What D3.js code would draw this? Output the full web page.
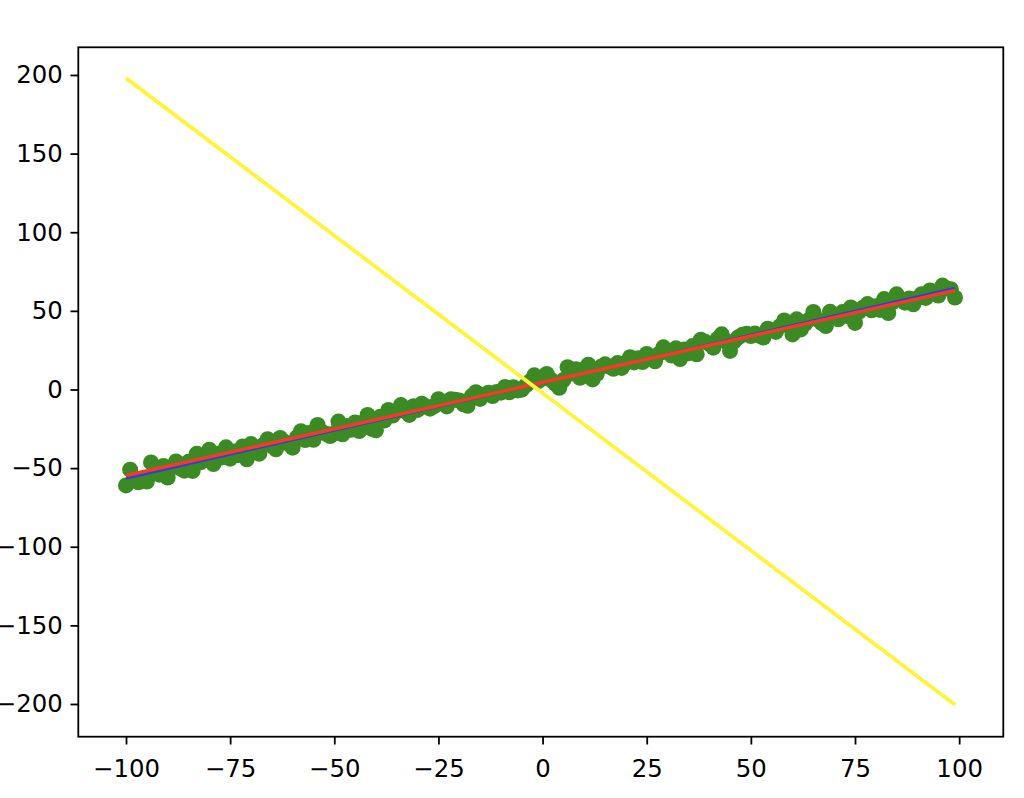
<!DOCTYPE html>
<html>
<head>
<meta charset="utf-8">
<script src="https://cdn.jsdelivr.net/npm/d3@7"></script>
<style>
  html, body { margin: 0; padding: 0; background: #fff; }
  svg { display: block; }
  text { font-family: "DejaVu Sans", sans-serif; }
</style>
</head>
<body>
<svg id="chart" width="1024" height="798"></svg>
<script>
// ---- data ----
const pointX = d3.range(-100, 100); // integer x positions -100 .. 99
const pointY = [
  -61, -51, -57, -59, -56.6, -58.5, -46.4, -50.8, -54.2, -48.6,
  -56, -49.4, -45.8, -50.2, -51.6, -46, -51.8, -40.8, -46.2, -42.6,
  -38.3, -47.4, -40.8, -43.2, -36.8, -44, -39.4, -41.8, -36.2, -44.4,
  -34.7, -39.4, -40.8, -35.2, -31.6, -36, -38, -30.8, -33.2, -34.6,
  -37, -30.4, -26.5, -32.2, -27.6, -32, -22.6, -26.8, -28.2, -29.6,
  -28, -20.4, -28.5, -23.2, -25.6, -21, -26.4, -20.8, -16.2, -25.1,
  -26, -17.4, -19.8, -13, -16.6, -14, -9.9, -13.8, -16.2, -10.6,
  -13, -9, -10.8, -12.2, -10.6, -6.2, -8.4, -10.8, -6.2, -6.6,
  -7, -9.4, -10.4, -4.2, -1.7, -6, -3.4, -2, -4.2, -1.6,
  -2, 1.6, -1.8, 1.5, -0.6, -0.1, 2.6, 5.2, 9, 5.4,
  7, 9.9, 6.2, 3.8, 1.1, 6, 14.2, 10.2, 12.8, 7.4,
  13, 15.8, 6.4, 9.8, 14.4, 16, 14.6, 13.2, 16.8, 13.7,
  17, 20.5, 17.2, 19.8, 17.4, 22.6, 20.6, 17.9, 22.8, 26.8,
  24, 21.6, 26.2, 19.4, 25.4, 23, 27.6, 22.4, 31.7, 30.4,
  29, 26.6, 32.2, 35.1, 30.4, 24.5, 30.6, 33.2, 34.8, 35.4,
  34, 35.6, 34.2, 33, 38.6, 38, 36.6, 40.2, 43.9, 42.4,
  35, 44.6, 38.2, 41.8, 44.4, 49.3, 44.6, 42.2, 40.3, 49.4,
  47, 44.6, 49.2, 46.8, 52.2, 42.3, 49.6, 52.2, 54.3, 50.4,
  53, 50.6, 57.5, 48.6, 55.4, 60.5, 57.6, 55.2, 57.8, 54.2,
  58, 60.6, 58.2, 63, 61.4, 59.7, 66.1, 64.2, 63.8, 58.5
];
const lineX = [-100, 99];
const trueLineY = [-56.6, 64.6];   // blue line
const fitLineY = [-54.7, 63.0];    // red line
const mirrorLineY = [198, -200.5]; // yellow line
const xTicks = [-100, -75, -50, -25, 0, 25, 50, 75, 100];
const yTicks = [-200, -150, -100, -50, 0, 50, 100, 150, 200];

// ---- layout ----
const M = { left: 78.3, right: 1003.3, top: 47.3, bottom: 736.7 };
const svg = d3.select("#chart");

const x = d3.scaleLinear().domain([-111.45, 110.6]).range([M.left, M.right]);
const y = d3.scaleLinear().domain([-220.8, 217.6]).range([M.bottom, M.top]);

const fmt = d => (d < 0 ? "\u2212" + Math.abs(d) : String(d));

// scatter
svg.append("g")
  .selectAll("circle")
  .data(pointX.map((d, i) => [d, pointY[i]]))
  .join("circle")
  .attr("cx", d => x(d[0]))
  .attr("cy", d => y(d[1]))
  .attr("r", 8)
  .attr("fill", "#3b8a23");

const line = d3.line().x(d => x(d[0])).y(d => y(d[1]));
function drawLine(ys, color, width) {
  svg.append("path")
    .datum(lineX.map((d, i) => [d, ys[i]]))
    .attr("d", line)
    .attr("fill", "none")
    .attr("stroke", color)
    .attr("stroke-width", width);
}
drawLine(trueLineY, "#3a3ad6", 2.4);
drawLine(fitLineY, "#f03c28", 3.6);
drawLine(mirrorLineY, "#fff43a", 3.8);

// axes
const xAxis = d3.axisBottom(x).tickValues(xTicks).tickFormat(fmt).tickSize(7.8).tickPadding(15);
const yAxis = d3.axisLeft(y).tickValues(yTicks).tickFormat(fmt).tickSize(7.8).tickPadding(7.8);

const gx = svg.append("g").attr("transform", `translate(0,${M.bottom})`).call(xAxis);
const gy = svg.append("g").attr("transform", `translate(${M.left},0)`).call(yAxis);
[gx, gy].forEach(g => {
  g.select(".domain").remove();
  g.selectAll(".tick line").attr("stroke", "#000").attr("stroke-width", 1.8);
  g.selectAll(".tick text").attr("fill", "#000").style("font-size", "24.4px")
    .style("font-family", "'DejaVu Sans', sans-serif");
});

// frame
svg.append("rect")
  .attr("x", M.left).attr("y", M.top)
  .attr("width", M.right - M.left).attr("height", M.bottom - M.top)
  .attr("fill", "none").attr("stroke", "#000").attr("stroke-width", 1.8);
</script>
</body>
</html>
